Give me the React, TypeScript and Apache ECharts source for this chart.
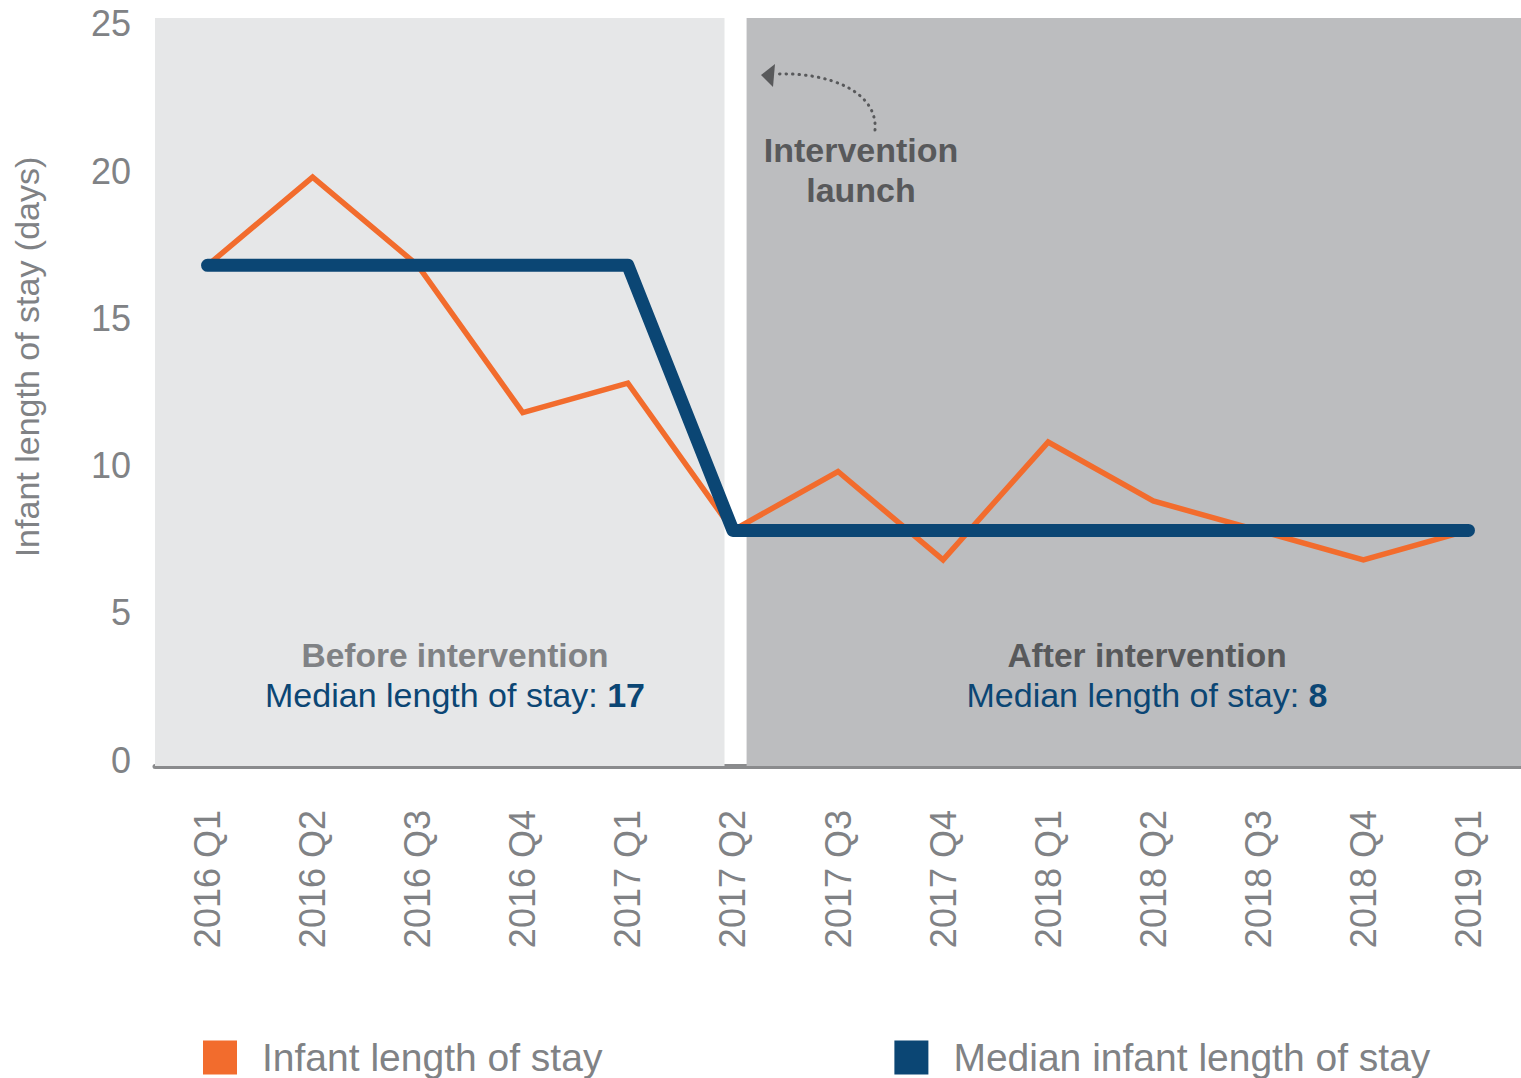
import React, { useEffect, useRef } from "react";
import * as echarts from "echarts";

const categories = [
  "2016 Q1", "2016 Q2", "2016 Q3", "2016 Q4", "2017 Q1", "2017 Q2", "2017 Q3",
  "2017 Q4", "2018 Q1", "2018 Q2", "2018 Q3", "2018 Q4", "2019 Q1",
];
const infantStay = [17, 20, 17, 12, 13, 8, 10, 7, 11, 9, 8, 7, 8];
const medianStay = [17, 17, 17, 17, 17, 8, 8, 8, 8, 8, 8, 8, 8];
const yTicks = [0, 5, 10, 15, 20, 25];
const beforeMedian = 17;
const afterMedian = 8;

const ORANGE = "#f26c2d";
const BLUE = "#0b4674";
const GRAY_TEXT = "#808285";
const DARK_TEXT = "#58595b";
const FONT = "'Liberation Sans', Arial, sans-serif";

export default function App() {
  const ref = useRef<HTMLDivElement>(null);

  useEffect(() => {
    if (!ref.current) return;
    const chart = echarts.init(ref.current, null, { renderer: "svg" });
    const option: any = {
      animation: false,
      textStyle: { fontFamily: FONT },
      grid: { left: 155, right: -5, top: 18, bottom: 312, containLabel: false },
      xAxis: [
        {
          type: "category",
          data: categories,
          boundaryGap: true,
          axisLine: { show: true, lineStyle: { color: "#8a8b8d", width: 5 } },
          axisTick: { show: false },
          axisLabel: {
            rotate: 90,
            margin: 44,
            color: GRAY_TEXT,
            fontSize: 36,
            fontFamily: FONT,
          },
          splitLine: { show: false },
        },
        {
          type: "value",
          min: -0.5,
          max: categories.length - 0.5,
          show: false,
        },
      ],
      yAxis: {
        type: "value",
        min: 0,
        max: 25.4,
        interval: 5,
        axisLine: { show: false },
        axisTick: { show: false },
        splitLine: { show: false },
        axisLabel: {
          margin: 24,
          color: GRAY_TEXT,
          fontSize: 36,
          fontFamily: FONT,
          formatter: (v: number) => (yTicks.indexOf(v) >= 0 ? `{a|${v}}` : ""),
          rich: {
            a: {
              color: GRAY_TEXT,
              fontSize: 36,
              fontFamily: FONT,
              padding: [0, 0, 12, 0],
            },
          },
        },
      },
      legend: {
        left: 203,
        top: 1038,
        padding: 0,
        icon: "rect",
        itemWidth: 34,
        itemHeight: 34,
        itemGap: 292,
        textStyle: {
          color: GRAY_TEXT,
          fontSize: 39,
          fontFamily: FONT,
          padding: [0, 0, 0, 20],
        },
        data: [
          { name: "Infant length of stay", itemStyle: { color: ORANGE } },
          { name: "Median infant length of stay", itemStyle: { color: BLUE } },
        ],
      },
      series: [
        {
          name: "periods",
          type: "line",
          xAxisIndex: 1,
          yAxisIndex: 0,
          data: [],
          silent: true,
          z: 0,
          markArea: {
            silent: true,
            data: [
              [
                { xAxis: -0.5, yAxis: 0, itemStyle: { color: "#e6e7e8" } },
                { xAxis: 4.92, yAxis: 25.4 },
              ],
              [
                { xAxis: 5.13, yAxis: 0, itemStyle: { color: "#bcbdbf" } },
                { xAxis: 12.5, yAxis: 25.4 },
              ],
            ],
          },
        },
        {
          name: "Infant length of stay",
          type: "line",
          data: infantStay,
          symbol: "none",
          z: 2,
          lineStyle: { color: ORANGE, width: 5.5, join: "miter" },
          itemStyle: { color: ORANGE },
        },
        {
          name: "Median infant length of stay",
          type: "line",
          data: medianStay,
          symbol: "none",
          z: 3,
          lineStyle: { color: BLUE, width: 13, cap: "round", join: "round" },
          itemStyle: { color: BLUE },
        },
      ],
      graphic: [
        {
          type: "text",
          z: 100,
          x: 27,
          y: 357,
          rotation: Math.PI / 2,
          style: {
            text: "Infant length of stay (days)",
            fill: GRAY_TEXT,
            font: `34px ${FONT}`,
            textAlign: "center",
            textVerticalAlign: "middle",
          },
        },
        {
          type: "text",
          z: 100,
          x: 455,
          y: 655,
          style: {
            text: "Before intervention",
            fill: GRAY_TEXT,
            font: `bold 33.5px ${FONT}`,
            textAlign: "center",
            textVerticalAlign: "middle",
          },
        },
        {
          type: "text",
          z: 100,
          x: 455,
          y: 695,
          style: {
            text: `{a|Median length of stay: }{b|${beforeMedian}}`,
            textAlign: "center",
            textVerticalAlign: "middle",
            rich: {
              a: { fill: BLUE, color: BLUE, fontSize: 34, fontFamily: FONT },
              b: { fill: BLUE, color: BLUE, fontSize: 34, fontWeight: "bold", fontFamily: FONT },
            },
          },
        },
        {
          type: "text",
          z: 100,
          x: 1147,
          y: 655,
          style: {
            text: "After intervention",
            fill: DARK_TEXT,
            font: `bold 33.5px ${FONT}`,
            textAlign: "center",
            textVerticalAlign: "middle",
          },
        },
        {
          type: "text",
          z: 100,
          x: 1147,
          y: 695,
          style: {
            text: `{a|Median length of stay: }{b|${afterMedian}}`,
            textAlign: "center",
            textVerticalAlign: "middle",
            rich: {
              a: { fill: BLUE, color: BLUE, fontSize: 34, fontFamily: FONT },
              b: { fill: BLUE, color: BLUE, fontSize: 34, fontWeight: "bold", fontFamily: FONT },
            },
          },
        },
        {
          type: "text",
          z: 100,
          x: 861,
          y: 150,
          style: {
            text: "Intervention",
            fill: DARK_TEXT,
            font: `bold 34px ${FONT}`,
            textAlign: "center",
            textVerticalAlign: "middle",
          },
        },
        {
          type: "text",
          z: 100,
          x: 861,
          y: 190,
          style: {
            text: "launch",
            fill: DARK_TEXT,
            font: `bold 34px ${FONT}`,
            textAlign: "center",
            textVerticalAlign: "middle",
          },
        },
        {
          type: "bezierCurve",
          z: 100,
          shape: {
            x1: 875, y1: 130,
            cpx1: 878, cpy1: 92,
            cpx2: 830, cpy2: 72,
            x2: 776, y2: 74,
          },
          style: {
            stroke: DARK_TEXT,
            fill: "none",
            lineWidth: 3,
            lineDash: [0.5, 6],
            lineCap: "round",
          },
        },
        {
          type: "polygon",
          z: 100,
          shape: { points: [[761, 75], [775, 64], [773, 87]] },
          style: { fill: DARK_TEXT },
        },
      ],
    };
    chart.setOption(option);
    return () => chart.dispose();
  }, []);

  return (
    <div
      ref={ref}
      style={{ position: "absolute", left: 0, top: 0, width: 1521, height: 1078 }}
    />
  );
}
